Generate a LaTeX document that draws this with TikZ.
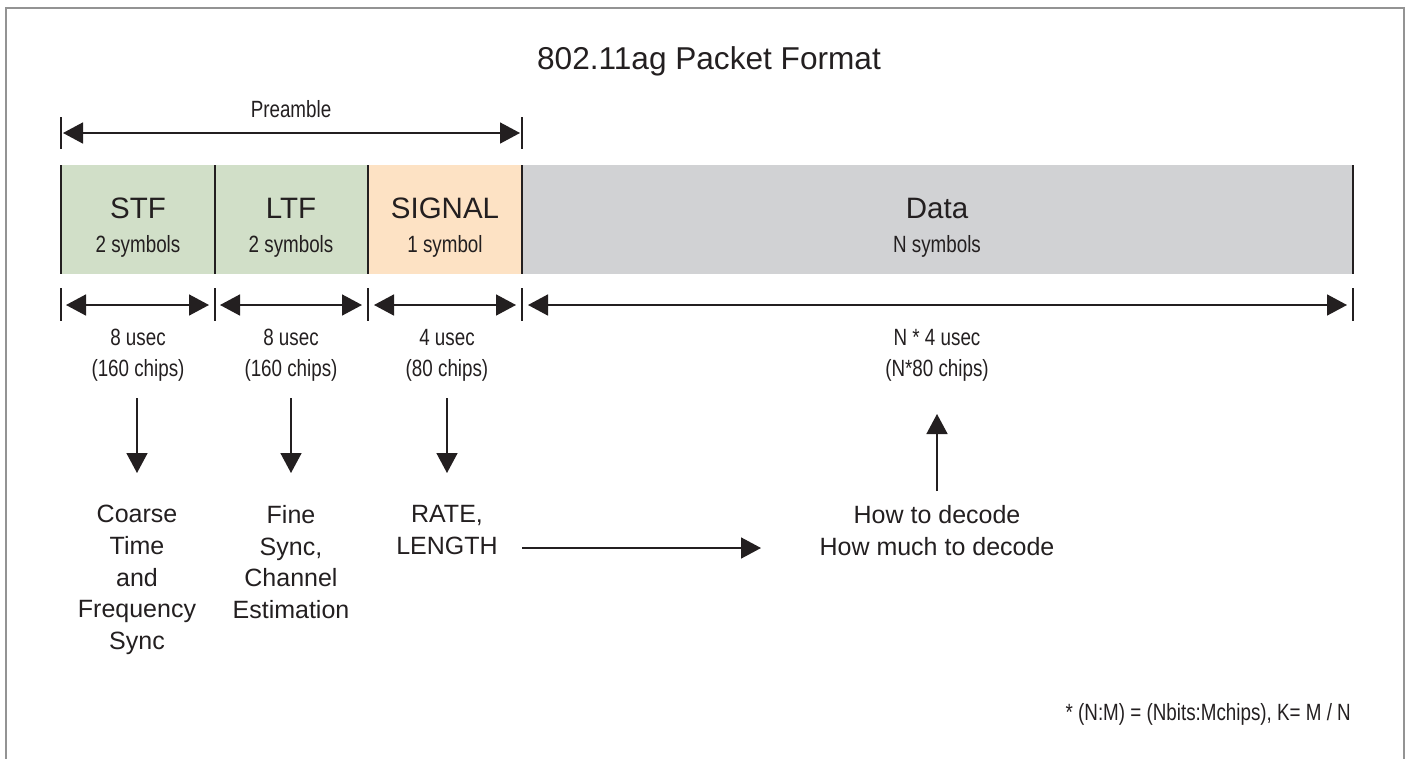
\documentclass[tikz,border=0pt]{standalone}
\usepackage{fontspec}
\setmainfont{Liberation Sans}
\newfontfamily\condfont[FakeStretch=0.8]{Liberation Sans}
\usetikzlibrary{arrows.meta}
\definecolor{ink}{HTML}{231F20}
\definecolor{framegray}{HTML}{939393}
\definecolor{stfgreen}{HTML}{D1DFC8}
\definecolor{sigorange}{HTML}{FDE2C4}
\definecolor{datagray}{HTML}{D1D2D4}
\tikzset{
  tri/.tip={Triangle[length=20pt,width=21pt]},
  dimline/.style={draw=ink,line width=1.6pt,{tri}-{tri}},
  flowarrow/.style={draw=ink,line width=1.6pt,-{tri}},
  bar/.style={draw=ink,line width=2pt},
  seg/.style={anchor=north west,inner sep=0pt,minimum height=109pt,draw=none},
  bigtxt/.style={font=\fontsize{29.5}{34}\selectfont,text=ink,anchor=base,inner sep=0pt},
  smalltxt/.style={font=\condfont\fontsize{23.5}{31}\selectfont,text=ink,anchor=base,inner sep=0pt},
  midtxt/.style={font=\fontsize{25}{31.7}\selectfont,text=ink,align=center,anchor=north,inner sep=0pt},
}
\begin{document}
\begin{tikzpicture}[x=1pt,y=-1pt]
\useasboundingbox (0,0) rectangle (1407,758);
% frame
\draw[framegray,line width=2pt] (6,762) -- (6,8) -- (1404,8) -- (1404,762);
% title
\node[bigtxt,font=\fontsize{31.6}{36}\selectfont] (title) at (709,69) {802.11ag Packet Format};
% preamble
\node[smalltxt] (pre) at (291,117) {Preamble};
\coordinate (p0) at (61,117); \coordinate (p0b) at (61,149);
\coordinate (p1) at (522,117); \coordinate (p1b) at (522,149);
\draw[bar] (p0) -- (p0b);
\draw[bar] (p1) -- (p1b);
\draw[dimline] (63,133) -- (520,133);
% segments
\node[seg,fill=stfgreen,minimum width=154pt] (stf) at (61,165) {};
\node[seg,fill=stfgreen,minimum width=153pt] (ltf) at (215,165) {};
\node[seg,fill=sigorange,minimum width=154pt] (sig) at (368,165) {};
\node[seg,fill=datagray,minimum width=831pt] (data) at (522,165) {};
\foreach \x in {61,215,368,522,1353} \draw[bar] (\x,165) -- (\x,274);
\node[bigtxt] (stft) at (138,218) {STF};
\node[smalltxt] (stfs) at (138,252) {2 symbols};
\node[bigtxt] (ltft) at (291,218) {LTF};
\node[smalltxt] (ltfs) at (291,252) {2 symbols};
\node[bigtxt] (sigt) at (445,218) {SIGNAL};
\node[smalltxt] (sigs) at (445,252) {1 symbol};
\node[bigtxt] (datat) at (937,218) {Data};
\node[smalltxt] (datas) at (937,252) {N symbols};
% duration dimension lines
\foreach \x in {61,215,368,522,1353} \draw[bar] (\x,288) -- (\x,321);
\draw[dimline] (66,305) -- (209,305);
\draw[dimline] (220,305) -- (362,305);
\draw[dimline] (374,305) -- (516,305);
\draw[dimline] (528,305) -- (1347,305);
\node[smalltxt] (d1a) at (138,345) {8 usec};
\node[smalltxt] (d1b) at (138,376) {(160 chips)};
\node[smalltxt] (d2a) at (291,345) {8 usec};
\node[smalltxt] (d2b) at (291,376) {(160 chips)};
\node[smalltxt] (d3a) at (447,345) {4 usec};
\node[smalltxt] (d3b) at (447,376) {(80 chips)};
\node[smalltxt] (d4a) at (937,345) {N * 4 usec};
\node[smalltxt] (d4b) at (937,376) {(N*80 chips)};
% outcomes
\node[midtxt] (coarse) at (137,505) {Coarse\\Time\\and\\Frequency\\Sync};
\node[midtxt] (fine) at (291,505) {Fine\\Sync,\\Channel\\Estimation};
\node[midtxt] (rate) at (447,505) {RATE,\\LENGTH};
\node[midtxt] (how) at (937,505) {How to decode\\How much to decode};
\coordinate (a1s) at (137,398); \coordinate (a1e) at (137,473);
\coordinate (a2s) at (291,398); \coordinate (a2e) at (291,473);
\coordinate (a3s) at (447,398); \coordinate (a3e) at (447,473);
\coordinate (a4s) at (937,491); \coordinate (a4e) at (937,414);
\coordinate (h1s) at (522,548); \coordinate (h1e) at (761,548);
\draw[flowarrow] (a1s) -- (a1e);
\draw[flowarrow] (a2s) -- (a2e);
\draw[flowarrow] (a3s) -- (a3e);
\draw[flowarrow] (a4s) -- (a4e);
\draw[flowarrow] (h1s) -- (h1e);
% footnote
\node[smalltxt,anchor=base east] (foot) at (1351,720) {* (N:M) = (Nbits:Mchips), K= M / N};
\end{tikzpicture}
\end{document}
